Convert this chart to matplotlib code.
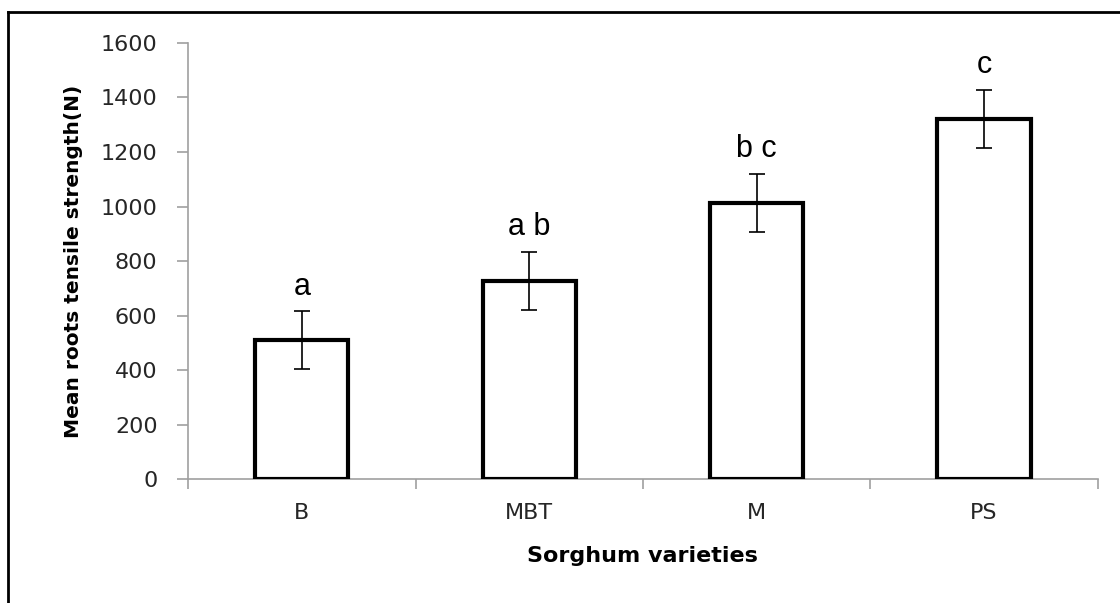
import matplotlib
matplotlib.use('Agg')
import matplotlib.pyplot as plt
from matplotlib.lines import Line2D

# data
varieties = ["B", "MBT", "M", "PS"]
mean_strength = [510, 728, 1014, 1322]
err = [105, 106, 106, 106]
letters = ["a", "a b", "b c", "c"]

fig = plt.figure(figsize=(11.2, 6.03), dpi=100)
ax = fig.add_axes([0.168, 0.2056, 0.812, 0.7231])

x = range(len(varieties))
ax.bar(x, mean_strength, width=0.41, color="white", edgecolor="black", linewidth=3, zorder=3)
ax.errorbar(x, mean_strength, yerr=err, fmt="none", ecolor="black", elinewidth=1.2,
            capsize=5.5, capthick=1.2, zorder=4)

# significance letters above error bars
for i in x:
    ax.annotate(letters[i], (i, mean_strength[i] + err[i]), xytext=(0, 7),
                textcoords="offset points", ha="center", va="bottom",
                fontsize=22, family="Liberation Sans")

ax.set_xlim(-0.5, 3.5)
ax.set_ylim(0, 1600)
ax.set_yticks(range(0, 1601, 200))
ax.set_xticks(list(x))
ax.set_xticklabels(varieties)
ax.set_xticks([-0.5, 0.5, 1.5, 2.5, 3.5], minor=True)

for s in ["top", "right"]:
    ax.spines[s].set_visible(False)
for s in ["left", "bottom"]:
    ax.spines[s].set_color("#a0a0a0")
    ax.spines[s].set_linewidth(1.2)

ax.tick_params(axis="y", direction="out", length=8, width=1.2, color="#a0a0a0",
               pad=14, labelsize=16, labelcolor="#262626")
ax.tick_params(axis="x", which="major", length=0, pad=17, labelsize=16, labelcolor="#262626")
ax.tick_params(axis="x", which="minor", direction="out", length=7, width=1.2, color="#a0a0a0")

ax.set_ylabel("Mean roots tensile strength(N)", fontsize=14.5, fontweight="bold", labelpad=13)
ax.set_xlabel("Sorghum varieties", fontsize=16, fontweight="bold", labelpad=17)

# outer frame (only top and left edges visible in the crop)
fig.add_artist(Line2D([0.0075, 0.0075], [0, 0.98], transform=fig.transFigure, color="black", lw=2))
fig.add_artist(Line2D([0.0075, 1.0], [0.98, 0.98], transform=fig.transFigure, color="black", lw=2))

fig.savefig("out.png", dpi=100)
